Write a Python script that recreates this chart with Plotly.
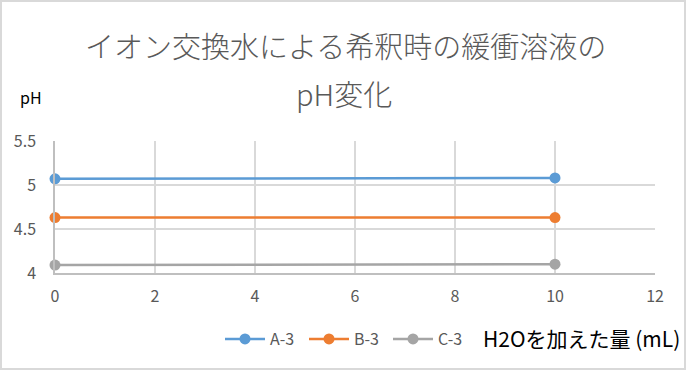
import plotly.graph_objects as go

x_vals = [0, 10]
series_names = ["A-3", "B-3", "C-3"]
a3 = [5.07, 5.08]
b3 = [4.63, 4.63]
c3 = [4.09, 4.10]
colors = ["#5b9bd5", "#ed7d31", "#a5a5a5"]

title_line1 = "イオン交換水による希釈時の緩衝溶液の"
title_line2 = "pH変化"
x_title = "H2Oを加えた量 (mL)"
y_title = "pH"

W, H = 687, 371
L, R, T, B = 55, 32, 141, 98
PW, PH = W - L - R, H - T - B


def px(xp):
    return (xp - L) / PW


def py(yp):
    return (H - B - yp) / PH


fig = go.Figure()
for name, ys, c in zip(series_names, [a3, b3, c3], colors):
    fig.add_trace(go.Scatter(x=x_vals, y=ys, name=name, mode="lines+markers",
                             line=dict(color=c, width=2.5),
                             marker=dict(color=c, size=11), cliponaxis=False))

font = "Noto Sans CJK JP, Open Sans, sans-serif"
fig.update_layout(
    width=W, height=H,
    margin=dict(l=L, r=R, t=T, b=B),
    paper_bgcolor="white", plot_bgcolor="white",
    font=dict(family=font, color="#595959", size=16),
    showlegend=True,
    legend=dict(orientation="h", x=px(220), xanchor="left",
                y=py(339), yanchor="middle",
                font=dict(size=16, color="#595959"),
                itemwidth=40, entrywidth=29, entrywidthmode="pixels",
                tracegroupgap=0, bgcolor="rgba(0,0,0,0)"),
    xaxis=dict(range=[0, 12], dtick=2, tick0=0, showgrid=True, gridcolor="#d9d9d9",
               gridwidth=1.5, zeroline=False, showline=True, linecolor="#bfbfbf",
               linewidth=1.5, ticks="", ticklabelstandoff=8,
               tickfont=dict(size=16, color="#595959")),
    yaxis=dict(range=[4, 5.5], dtick=0.5, tick0=4, showgrid=True, gridcolor="#d9d9d9",
               gridwidth=1.5, zeroline=False, showline=True, linecolor="#bfbfbf",
               linewidth=1.5, ticks="", ticklabelstandoff=14,
               tickfont=dict(size=16, color="#595959")),
)

fig.add_annotation(text=title_line1, xref="paper", yref="paper",
                   x=px(345), xanchor="center", y=py(45), yanchor="middle",
                   showarrow=False,
                   font=dict(size=29, color="#595959", family=font, weight=300))
fig.add_annotation(text=title_line2, xref="paper", yref="paper",
                   x=px(344), xanchor="center", y=py(93), yanchor="middle",
                   showarrow=False,
                   font=dict(size=29, color="#595959", family=font, weight=300))
fig.add_annotation(text=y_title, xref="paper", yref="paper",
                   x=px(31), xanchor="center", y=py(97), yanchor="middle",
                   showarrow=False,
                   font=dict(size=16, color="#000000", family=font))
fig.add_annotation(text=x_title, xref="paper", yref="paper",
                   x=px(581), xanchor="center", y=py(338), yanchor="middle",
                   showarrow=False,
                   font=dict(size=21, color="#000000", family=font))

fig.add_shape(type="rect", xref="paper", yref="paper",
              x0=-(L - 1) / PW, x1=1 + (R - 2) / PW,
              y0=-(B - 2) / PH, y1=1 + (T - 1) / PH,
              line=dict(color="#d9d9d9", width=2), layer="below")

fig.write_html("out.html")
